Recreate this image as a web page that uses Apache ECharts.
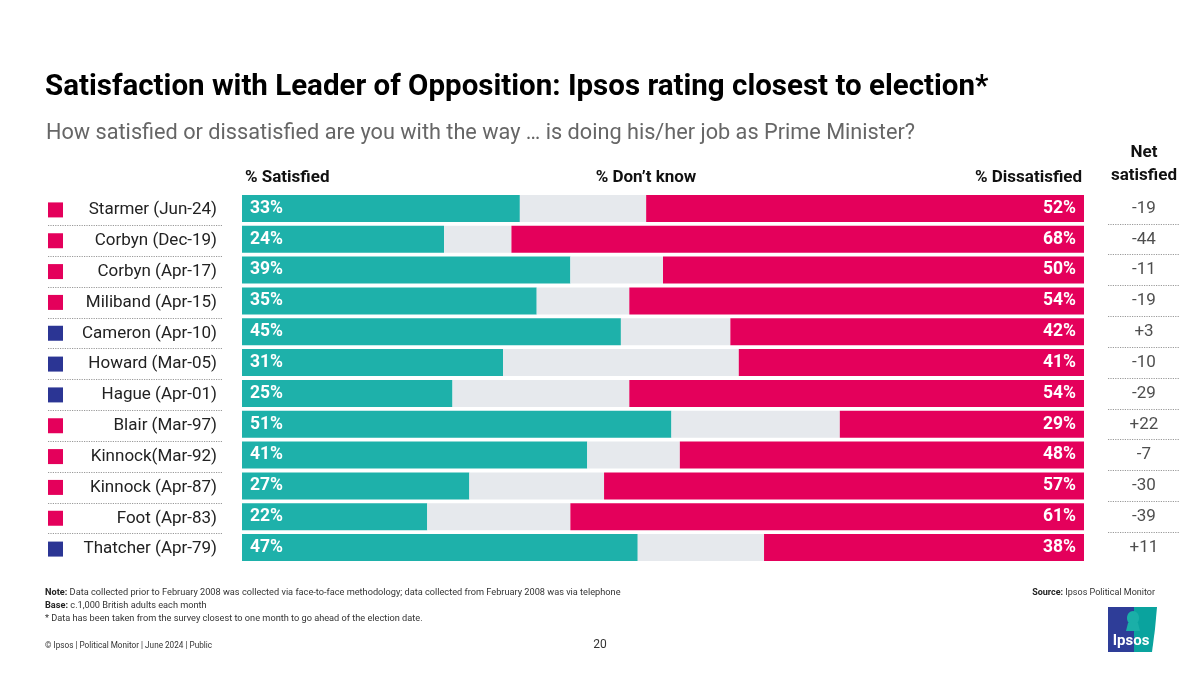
<!DOCTYPE html>
<html><head><meta charset="utf-8">
<script src="https://cdn.jsdelivr.net/npm/echarts@6/dist/echarts.min.js"></script>
<style>html,body{margin:0;padding:0;background:#fff}#c{width:1200px;height:675px}</style>
</head><body><div id="c"></div>
<script>
const categories = ['Starmer (Jun-24)','Corbyn (Dec-19)','Corbyn (Apr-17)','Miliband (Apr-15)','Cameron (Apr-10)','Howard (Mar-05)','Hague (Apr-01)','Blair (Mar-97)','Kinnock(Mar-92)','Kinnock (Apr-87)','Foot (Apr-83)','Thatcher (Apr-79)'];
const party = ['lab','lab','lab','lab','con','con','con','lab','lab','lab','lab','con'];
const satisfied = [33,24,39,35,45,31,25,51,41,27,22,47];
const dontKnow = [15,8,11,11,13,28,21,20,11,16,17,15];
const dissatisfied = [52,68,50,54,42,41,54,29,48,57,61,38];
const netSatisfied = ['-19','-44','-11','-19','+3','-10','-29','+22','-7','-30','-39','+11'];

const FONT = 'Roboto, "Noto Sans", sans-serif';
const TEAL = '#1EB1AA', GREY = '#E6E9ED', RED = '#E4005B', NAVY = '#2B3594';
const GT = 193, GH = 370;

const chart = echarts.init(document.getElementById('c'), null, {renderer:'canvas'});
const dotted = {show:true, interval:0, showMinLine:false, showMaxLine:false, lineStyle:{type:[1.2,1.2], color:'#999', width:1}};

const option = {
  backgroundColor:'#fff',
  textStyle:{fontFamily:FONT},
  animation:false,
  title:[
    {text:'Satisfaction with Leader of Opposition: Ipsos rating closest to election*', left:40, top:68,
     textStyle:{fontFamily:FONT, fontSize:29.5, fontWeight:'bold', color:'#000'}},
    {text:'How satisfied or dissatisfied are you with the way … is doing his/her job as Prime Minister?', left:41, top:118,
     textStyle:{fontFamily:FONT, fontSize:21.7, fontWeight:'normal', color:'#666'}}
  ],
  grid:[
    {left:242, right:116, top:GT, height:GH},
    {left:48, width:175, top:GT+1.5, height:GH},
    {left:1108, width:72, top:GT, height:GH}
  ],
  xAxis:[
    {gridIndex:0, type:'value', min:0, max:100, show:false},
    {gridIndex:1, type:'value', min:0, max:1, show:false},
    {gridIndex:2, type:'value', min:0, max:1, show:false}
  ],
  yAxis:[
    {gridIndex:0, type:'category', data:categories, inverse:true, show:false},
    {gridIndex:1, type:'category', data:categories, inverse:true, position:'right',
     axisLine:{show:false}, axisTick:{show:false}, splitLine:dotted,
     axisLabel:{inside:true, interval:0, margin:6, fontSize:17, color:'#222', fontFamily:FONT}},
    {gridIndex:1, type:'category', data:categories, inverse:true, position:'left',
     axisLine:{show:false}, axisTick:{show:false}, splitLine:{show:false},
     axisLabel:{inside:true, interval:0, margin:0,
       formatter:(v, i) => party[i] === 'con' ? '{con|}' : '{lab|}',
       rich:{lab:{width:15, height:15, backgroundColor:RED}, con:{width:15, height:15, backgroundColor:NAVY}}}},
    {gridIndex:2, type:'category', data:categories, inverse:true,
     axisLine:{show:false}, axisTick:{show:false}, axisLabel:{show:false}, splitLine:dotted}
  ],
  series:[
    {name:'% Satisfied', type:'bar', stack:'s', xAxisIndex:0, yAxisIndex:0, data:satisfied, barWidth:27,
     itemStyle:{color:TEAL},
     label:{show:true, position:'insideLeft', distance:8, formatter:'{c}%', color:'#fff', fontWeight:'bold', fontSize:17.5, fontFamily:FONT}},
    {name:'% Don’t know', type:'bar', stack:'s', xAxisIndex:0, yAxisIndex:0, data:dontKnow, barWidth:27,
     itemStyle:{color:GREY}},
    {name:'% Dissatisfied', type:'bar', stack:'s', xAxisIndex:0, yAxisIndex:0, data:dissatisfied, barWidth:27,
     itemStyle:{color:RED},
     label:{show:true, position:'insideRight', distance:8, formatter:'{c}%', color:'#fff', fontWeight:'bold', fontSize:17.5, fontFamily:FONT}},
    {name:'Net satisfied', type:'scatter', xAxisIndex:2, yAxisIndex:3, symbolSize:0,
     data:netSatisfied.map((v,i)=>[0.5, categories[i], v]),
     label:{show:true, position:'inside', formatter:p=>p.value[2], color:'#222', fontSize:17, fontFamily:FONT}}
  ],
  graphic:[
    {type:'text', x:245, y:178, style:{text:'% Satisfied', font:'bold 17px '+FONT, fill:'#111', textVerticalAlign:'middle'}},
    {type:'text', x:646, y:178, style:{text:'% Don’t know', font:'bold 17px '+FONT, fill:'#111', textAlign:'center', textVerticalAlign:'middle'}},
    {type:'text', x:1082, y:178, style:{text:'% Dissatisfied', font:'bold 17px '+FONT, fill:'#111', textAlign:'right', textVerticalAlign:'middle'}},
    {type:'text', x:1144, y:153, style:{text:'Net', font:'bold 17px '+FONT, fill:'#111', textAlign:'center', textVerticalAlign:'middle'}},
    {type:'text', x:1144, y:176, style:{text:'satisfied', font:'bold 17px '+FONT, fill:'#111', textAlign:'center', textVerticalAlign:'middle'}},
    {type:'text', x:45, y:593, style:{text:'{b|Note:} Data collected prior to February 2008 was collected via face-to-face methodology; data collected from February 2008 was via telephone',
      rich:{b:{font:'bold 9.2px '+FONT, fill:'#222'}}, font:'9.2px '+FONT, fill:'#333', textVerticalAlign:'middle'}},
    {type:'text', x:45, y:606, style:{text:'{b|Base:} c.1,000 British adults each month',
      rich:{b:{font:'bold 9.2px '+FONT, fill:'#222'}}, font:'9.2px '+FONT, fill:'#333', textVerticalAlign:'middle'}},
    {type:'text', x:45, y:619, style:{text:'* Data has been taken from the survey closest to one month to go ahead of the election date.', font:'9.2px '+FONT, fill:'#333', textVerticalAlign:'middle'}},
    {type:'text', x:45, y:646, style:{text:'© Ipsos | Political Monitor | June 2024 | Public', font:'8.2px '+FONT, fill:'#333', textVerticalAlign:'middle'}},
    {type:'text', x:600, y:645, style:{text:'20', font:'12px '+FONT, fill:'#333', textAlign:'center', textVerticalAlign:'middle'}},
    {type:'text', x:1155, y:593, style:{text:'{b|Source:} Ipsos Political Monitor',
      rich:{b:{font:'bold 9px '+FONT, fill:'#222'}}, font:'9px '+FONT, fill:'#333', textAlign:'right', textVerticalAlign:'middle'}},
    {type:'group', x:1108, y:607, children:[
      {type:'polygon', shape:{points:[[0,0],[26,0],[26,45],[0,45]]}, style:{fill:'#2E3D98'}},
      {type:'polygon', shape:{points:[[26,0],[49,0],[47,22],[44,45],[26,45]]}, style:{fill:'#0AA39E'}},
      {type:'ellipse', shape:{cx:25, cy:11, rx:6, ry:7}, style:{fill:'#1AAFA8'}},
      {type:'polygon', shape:{points:[[20,16],[30,16],[32,24],[18,24]]}, style:{fill:'#1AAFA8'}},
      {type:'text', x:23, y:34, style:{text:'Ipsos', font:'bold 15px '+FONT, fill:'#fff', textAlign:'center', textVerticalAlign:'middle'}}
    ]}
  ]
};
chart.setOption(option);
</script>
</body></html>
